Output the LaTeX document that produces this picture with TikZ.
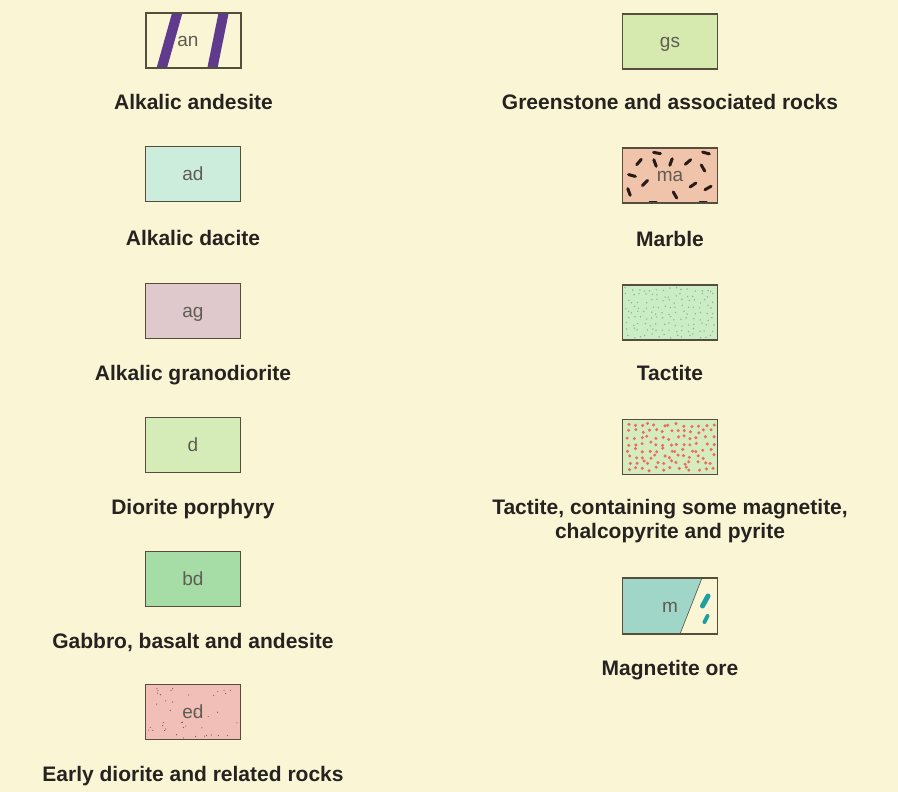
\documentclass[tikz,border=0pt]{standalone}
\usepackage{fontspec}
\setmainfont{Liberation Sans}
\definecolor{paper}{RGB}{250,245,212}
\definecolor{frameclr}{RGB}{85,78,60}
\definecolor{boxtxt}{RGB}{95,92,82}
\definecolor{labclr}{RGB}{38,34,32}
\definecolor{anstripe}{RGB}{96,58,140}
\definecolor{adfill}{RGB}{204,236,220}
\definecolor{agfill}{RGB}{224,201,204}
\definecolor{dfill}{RGB}{214,236,184}
\definecolor{bdfill}{RGB}{166,220,166}
\definecolor{edfill}{RGB}{241,190,184}
\definecolor{edspeck}{RGB}{125,80,80}
\definecolor{gsfill}{RGB}{214,234,176}
\definecolor{mafill}{RGB}{240,196,170}
\definecolor{madash}{RGB}{40,26,22}
\definecolor{tacfill}{RGB}{204,236,198}
\definecolor{tacspeck}{RGB}{120,190,150}
\definecolor{tacredfill}{RGB}{214,236,190}
\definecolor{tacred}{RGB}{236,108,98}
\definecolor{magfill}{RGB}{160,214,200}
\definecolor{magblob}{RGB}{30,160,160}
\tikzset{
  legbox/.style={draw=frameclr,line width=1.2pt,minimum width=95pt,minimum height=55pt,
    inner sep=0pt,text height=12pt,text depth=0pt,text=boxtxt,font=\fontsize{19}{22}\selectfont},
  legtxt/.style={anchor=base,align=center,text=labclr,font=\bfseries\fontsize{21}{24}\selectfont},
}
\begin{document}
\begin{tikzpicture}[x=1pt,y=-1pt]
    \fill[paper] (0,0) rectangle (898,792);
    \useasboundingbox (0,0) rectangle (898,792);
    % an)
    \begin{scope}[shift={(193.5,40.5)}]
        \begin{scope}
            \clip (-47.5,-27.5) rectangle (47.5,27.5);
            \draw[anstripe,line width=10pt] (-15,-32)--(-33,32);
            \draw[anstripe,line width=10pt] (31,-32)--(18,32);
        \end{scope}
        \node[legbox] (an) at (0,0) {\hspace*{-11pt}an};
        \node[legtxt] (anLab) at (0,69.5) {Alkalic andesite};
    \end{scope}
    % ad)
    \begin{scope}[shift={(193,174)}]
        \node[legbox,fill=adfill] (ad) at (0,0) {ad};
        \node[legtxt] (adLab) at (0,71) {Alkalic dacite};
    \end{scope}
    % ag)
    \begin{scope}[shift={(193,311)}]
        \node[legbox,fill=agfill] (ag) at (0,0) {ag};
        \node[legtxt] (agLab) at (0,69) {Alkalic granodiorite};
    \end{scope}
    % d)
    \begin{scope}[shift={(193,445)}]
        \node[legbox,fill=dfill] (d) at (0,0) {d};
        \node[legtxt] (dLab) at (0,69) {Diorite porphyry};
    \end{scope}
    % bd)
    \begin{scope}[shift={(193,579)}]
        \node[legbox,fill=bdfill] (bd) at (0,0) {bd};
        \node[legtxt] (bdLab) at (0,69) {Gabbro, basalt and andesite};
    \end{scope}
    % ed)
    \begin{scope}[shift={(193,712)}]
        \begin{scope}
            \fill[edfill] (-47.5,-27.5) rectangle (47.5,27.5);
            \pgfmathsetseed{17}
            \foreach \i in {1,...,40}
                \fill[edspeck] (rnd*92-46,rnd*52-26) circle (0.6);
        \end{scope}
        \node[legbox] (ed) at (0,0) {ed};
        \node[legtxt] (edLab) at (0,69) {Early diorite and related rocks};
    \end{scope}
    % gs)
    \begin{scope}[shift={(670,41.5)}]
        \node[legbox,fill=gsfill] (gs) at (0,0) {gs};
        \node[legtxt] (gsLab) at (0,68.5) {Greenstone and associated rocks};
    \end{scope}
    % ma)
    \begin{scope}[shift={(670,175.5)}]
        \begin{scope}
            \clip (-47.5,-27.5) rectangle (47.5,27.5);
            \fill[mafill] (-47.5,-27.5) rectangle (47.5,27.5);
            \foreach \x/\y/\a in {-31/-13.5/-50,-13/-22.5/10,-15/-12.5/70,1/-13.5/-70,
                18/-13.5/-40,36/-22.5/15,33/-7.5/60,-38/0/15,-25/7.5/-45,-41/16.5/70,
                -17/26.5/0,5/19.5/60,23/9.5/-35,38/12.5/-30,33/26.5/0}
                \draw[madash,line width=3pt,line cap=round] (\x,\y) ++(\a:3.5) -- ++(\a+180:7);
        \end{scope}
        \node[legbox] (ma) at (0,0) {ma};
        \node[legtxt] (maLab) at (0,70.5) {Marble};
    \end{scope}
    % tactite
    \begin{scope}[shift={(670,312.5)}]
        \begin{scope}
            \fill[tacfill] (-47.5,-27.5) rectangle (47.5,27.5);
            \pgfmathsetseed{5}
            \foreach \c in {0,...,14}
                \foreach \r in {0,...,8}
                    \fill[tacspeck] (-43+\c*6.1+rand*2.2,-23+\r*5.8+rand*2) circle (0.8);
        \end{scope}
        \node[legbox] (tac) at (0,0) {};
        \node[legtxt] (tacLab) at (0,67.5) {Tactite};
    \end{scope}
    % tactite with ore
    \begin{scope}[shift={(670,447)}]
        \begin{scope}
            \fill[tacredfill] (-47.5,-27.5) rectangle (47.5,27.5);
            \pgfmathsetseed{11}
            \foreach \c in {0,...,12}
                \foreach \r in {0,...,7}
                    \fill[tacred] (-42+\c*7+rand*2.4,-22+\r*6.3+rand*2) circle (1.7);
        \end{scope}
        \node[legbox] (tacOre) at (0,0) {};
        \node[legtxt] (tacOreLab) at (0,91) {Tactite, containing some magnetite,\\chalcopyrite and pyrite};
    \end{scope}
    % m)
    \begin{scope}[shift={(670,606)}]
        \fill[magfill] (-47.5,-28) -- (32,-28) -- (10,28) -- (-47.5,28) -- cycle;
        \draw[frameclr,line width=0.6pt] (32,-28) -- (10,28);
        \draw[magblob,line width=5pt,line cap=round] (38,-10) -- (32.5,0);
        \draw[magblob,line width=4pt,line cap=round] (37.5,10) -- (34.5,16);
        \node[legbox,minimum height=56pt] (mag) at (0,0) {m};
        \node[legtxt] (magLab) at (0,69) {Magnetite ore};
    \end{scope}
\end{tikzpicture}
\end{document}
